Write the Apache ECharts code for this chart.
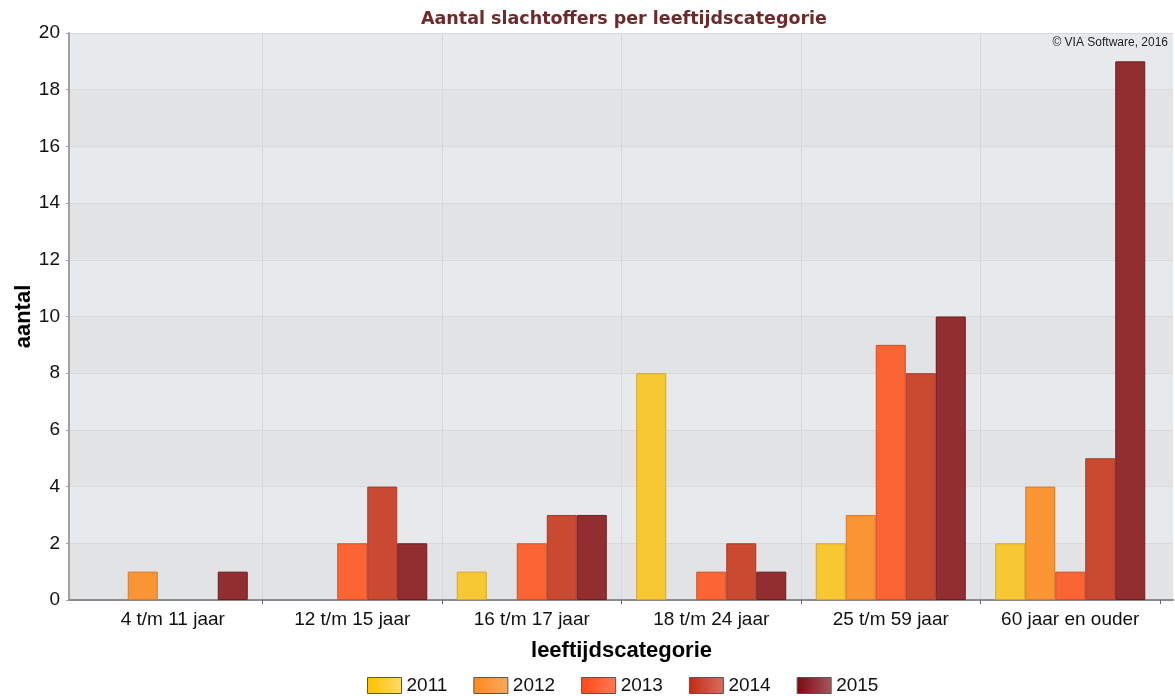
<!DOCTYPE html>
<html>
<head>
<meta charset="utf-8">
<script src="https://cdn.jsdelivr.net/npm/echarts@6/dist/echarts.min.js"></script>
<style>
html,body{margin:0;padding:0;background:#fff;}
#chart{width:1175px;height:696px;}
</style>
</head>
<body>
<div id="chart"></div>
<script>
// Leeftijdscategorieën en aantallen per jaar
const categories = ['4 t/m 11 jaar', '12 t/m 15 jaar', '16 t/m 17 jaar', '18 t/m 24 jaar', '25 t/m 59 jaar', '60 jaar en ouder'];
const years = ['2011', '2012', '2013', '2014', '2015'];
const v2011 = [0, 0, 1, 8, 2, 2];
const v2012 = [1, 0, 0, 0, 3, 4];
const v2013 = [0, 2, 2, 1, 9, 1];
const v2014 = [0, 4, 3, 2, 8, 5];
const v2015 = [1, 2, 3, 1, 10, 19];
const values = [v2011, v2012, v2013, v2014, v2015];

const fills   = ['#f8c832', '#f99633', '#fb6534', '#c94a30', '#922d30'];
const borders = ['#d9a52a', '#d9782a', '#d44e2a', '#a8392a', '#6e1c20'];
const legendFrom = ['#ffc000', '#ff8a1a', '#ff4a14', '#c22c14', '#7a0a10'];
const legendTo   = ['#fedb6a', '#f9a860', '#fb7a58', '#d86e5e', '#a85560'];

const nCat = categories.length;
// separators between categories only; the outer edge line is made transparent
const sepColors = categories.map((c, i) => (i < nCat - 1 ? '#d6d7d9' : 'rgba(0,0,0,0)'));

const chart = echarts.init(document.getElementById('chart'));

const series = years.map((y, i) => ({
  name: y,
  type: 'bar',
  xAxisIndex: 1,
  yAxisIndex: 1,
  // a zero count draws no bar
  data: values[i].map(v => (v === 0 ? '-' : v)),
  barWidth: 30,
  barGap: '0%',
  itemStyle: { color: fills[i], borderColor: borders[i], borderWidth: 1 }
}));

chart.setOption({
  animation: false,
  backgroundColor: '#ffffff',
  title: {
    text: 'Aantal slachtoffers per leeftijdscategorie',
    left: 416,
    top: 5,
    textStyle: { fontFamily: 'DejaVu Sans', fontWeight: 'bold', fontSize: 17.5, color: '#6e2a2a' }
  },
  graphic: [{
    type: 'text',
    right: 7,
    top: 37,
    z: 100,
    style: { text: '© VIA Software, 2016', fontFamily: 'Liberation Sans', fontSize: 12, fill: '#222' }
  }],
  legend: {
    top: 671,
    left: 362,
    icon: 'rect',
    itemWidth: 34,
    itemHeight: 16,
    itemGap: 26,
    textStyle: { fontFamily: 'Liberation Sans', fontSize: 19, color: '#111' },
    data: years.map((y, i) => ({
      name: y,
      itemStyle: {
        color: new echarts.graphic.LinearGradient(0, 0, 1, 0, [
          { offset: 0, color: legendFrom[i] },
          { offset: 1, color: legendTo[i] }
        ]),
        borderColor: '#555',
        borderWidth: 1
      }
    }))
  },
  grid: [
    { left: 69, right: 2, top: 33, bottom: 96, outerBoundsMode: 'none', containLabel: false },
    { left: 83, right: 15, top: 33, bottom: 96, outerBoundsMode: 'none', containLabel: false }
  ],
  xAxis: [
    {
      gridIndex: 0,
      type: 'category',
      data: categories,
      axisLine: { lineStyle: { color: '#8c8c8c', width: 2 } },
      axisTick: { show: false },
      axisLabel: { show: false },
      splitLine: { show: false }
    },
    {
      gridIndex: 1,
      type: 'category',
      data: categories,
      name: 'leeftijdscategorie',
      nameLocation: 'middle',
      nameGap: 40,
      nameTextStyle: { fontFamily: 'Liberation Sans', fontWeight: 'bold', fontSize: 22, color: '#000' },
      axisLine: { show: false },
      axisTick: { show: true, length: 4, interval: (i) => i > 0, lineStyle: { color: '#666' } },
      axisLabel: { interval: 0, fontFamily: 'Liberation Sans', fontSize: 19, color: '#111', margin: 10 },
      splitLine: { show: true, interval: (i) => i > 0, lineStyle: { color: sepColors } }
    }
  ],
  yAxis: [
    {
      gridIndex: 0,
      type: 'value',
      min: 0,
      max: 20,
      interval: 2,
      name: 'aantal',
      nameLocation: 'middle',
      nameGap: 34,
      nameMoveOverlap: false,
      nameRotate: 90,
      nameTextStyle: { fontFamily: 'Liberation Sans', fontWeight: 'bold', fontSize: 22, color: '#000' },
      axisLine: { show: true, lineStyle: { color: '#a0a0a0', width: 2 } },
      axisTick: { show: true, length: 3, lineStyle: { color: '#a0a0a0' } },
      axisLabel: { fontFamily: 'Liberation Sans', fontSize: 19, color: '#111', margin: 9 },
      splitLine: { show: true, lineStyle: { color: '#d8d9db' } },
      splitArea: { show: true, areaStyle: { color: ['#e2e3e5', '#e7eaed'] } }
    },
    {
      gridIndex: 1,
      type: 'value',
      min: 0,
      max: 20,
      interval: 2,
      show: false
    }
  ],
  series: series
});
</script>
</body>
</html>
